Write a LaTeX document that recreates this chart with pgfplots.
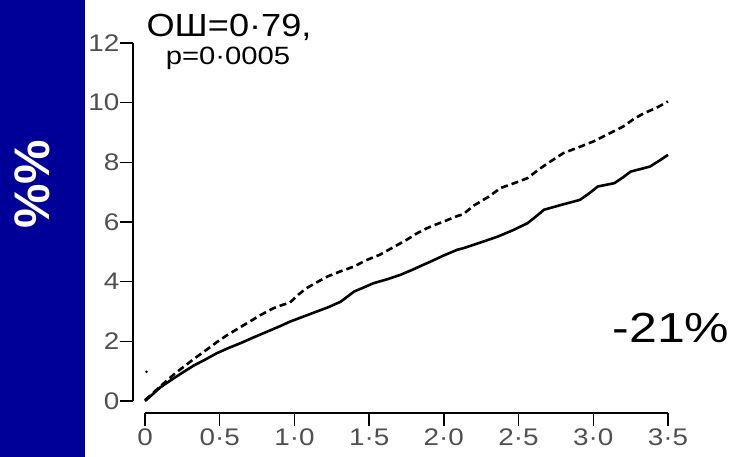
\documentclass[border=0pt]{standalone}
\usepackage{pgfplots}
\pgfplotsset{compat=1.18}
\usepackage{fontspec}
\setmainfont{Liberation Sans}
\definecolor{band}{RGB}{0,0,153}
\definecolor{tickgray}{RGB}{80,80,80}
\begin{document}
\begin{tikzpicture}
\useasboundingbox (0,0) rectangle (738pt,-457pt);
\fill[band] (0,0) rectangle (85pt,-457pt);
\node[rotate=90, text=white, font=\bfseries\fontsize{50}{50}\selectfont] at (32pt,-184pt) {\%\%};
\begin{axis}[
  at={(145pt,-401pt)}, anchor=origin,
  scale only axis, width=523pt, height=358pt,
  xmin=0, xmax=3.5, ymin=0, ymax=12,
  axis lines=left,
  axis line style={-, line width=1.3pt},
  axis x line shift=12pt,
  axis y line shift=12pt,
  tick align=outside,
  major tick length=13pt,
  tick style={line width=1.3pt, black},
  xtick={0,0.5,1,1.5,2,2.5,3,3.5},
  xticklabels={0,0·5,1·0,1·5,2·0,2·5,3·0,3·5},
  ytick={0,2,4,6,8,10,12},
  yticklabels={0,2,4,6,8,10,12},
  tick label style={text=tickgray, font=\fontsize{24}{24}\selectfont, xscale=1.16},
  xticklabel style={yshift=1pt},
  yticklabel style={xshift=3pt},
  clip=false,
]
\addplot[black, line width=2.6pt, dash pattern=on 7pt off 4pt] coordinates {
(0,0.03) (0.05,0.25) (0.10,0.48) (0.15,0.70) (0.20,0.92) (0.26,1.15) (0.33,1.42)
(0.41,1.71) (0.48,1.97) (0.55,2.21) (0.62,2.42) (0.70,2.66) (0.78,2.90) (0.86,3.11)
(0.92,3.22) (0.97,3.30) (1.03,3.58) (1.08,3.78) (1.15,3.98) (1.22,4.17) (1.31,4.35)
(1.40,4.51) (1.48,4.72) (1.57,4.90) (1.66,5.15) (1.75,5.40) (1.82,5.62) (1.89,5.80)
(1.98,5.98) (2.09,6.20) (2.13,6.26) (2.20,6.55) (2.30,6.85) (2.38,7.14) (2.47,7.30)
(2.56,7.47) (2.64,7.78) (2.72,8.05) (2.80,8.31) (2.90,8.50) (3.00,8.70) (3.10,8.95)
(3.20,9.20) (3.27,9.45) (3.34,9.65) (3.42,9.82) (3.50,10.04)
};
\addplot[black, line width=2.6pt] coordinates {
(0,0) (0.05,0.22) (0.10,0.45) (0.18,0.72) (0.26,0.98) (0.33,1.20) (0.40,1.38)
(0.48,1.60) (0.56,1.78) (0.64,1.94) (0.73,2.14) (0.82,2.33) (0.90,2.50) (0.97,2.66)
(1.06,2.83) (1.15,3.00) (1.23,3.15) (1.31,3.33) (1.36,3.52) (1.40,3.67) (1.47,3.82)
(1.53,3.95) (1.62,4.08) (1.71,4.23) (1.79,4.40) (1.86,4.56) (1.91,4.67) (2.00,4.88)
(2.09,5.07) (2.13,5.12) (2.25,5.32) (2.36,5.51) (2.46,5.72) (2.56,5.96) (2.62,6.20)
(2.67,6.41) (2.79,6.58) (2.91,6.74) (2.97,6.95) (3.03,7.19) (3.14,7.30) (3.20,7.50)
(3.25,7.69) (3.32,7.78) (3.38,7.86) (3.44,8.05) (3.50,8.25)
};
\addplot[only marks, mark=*, mark size=1pt, black] coordinates {(0.01,0.98)};
\end{axis}
\node[anchor=base, font=\fontsize{32}{32}\selectfont, xscale=1.13] at (229pt,-37pt) {ОШ=0·79,};
\node[anchor=base, font=\fontsize{25}{25}\selectfont, xscale=1.17] at (228pt,-65pt) {p=0·0005};
\node[anchor=base, font=\fontsize{42}{42}\selectfont, xscale=1.19] at (671pt,-342pt) {-21\%};
\end{tikzpicture}
\end{document}
